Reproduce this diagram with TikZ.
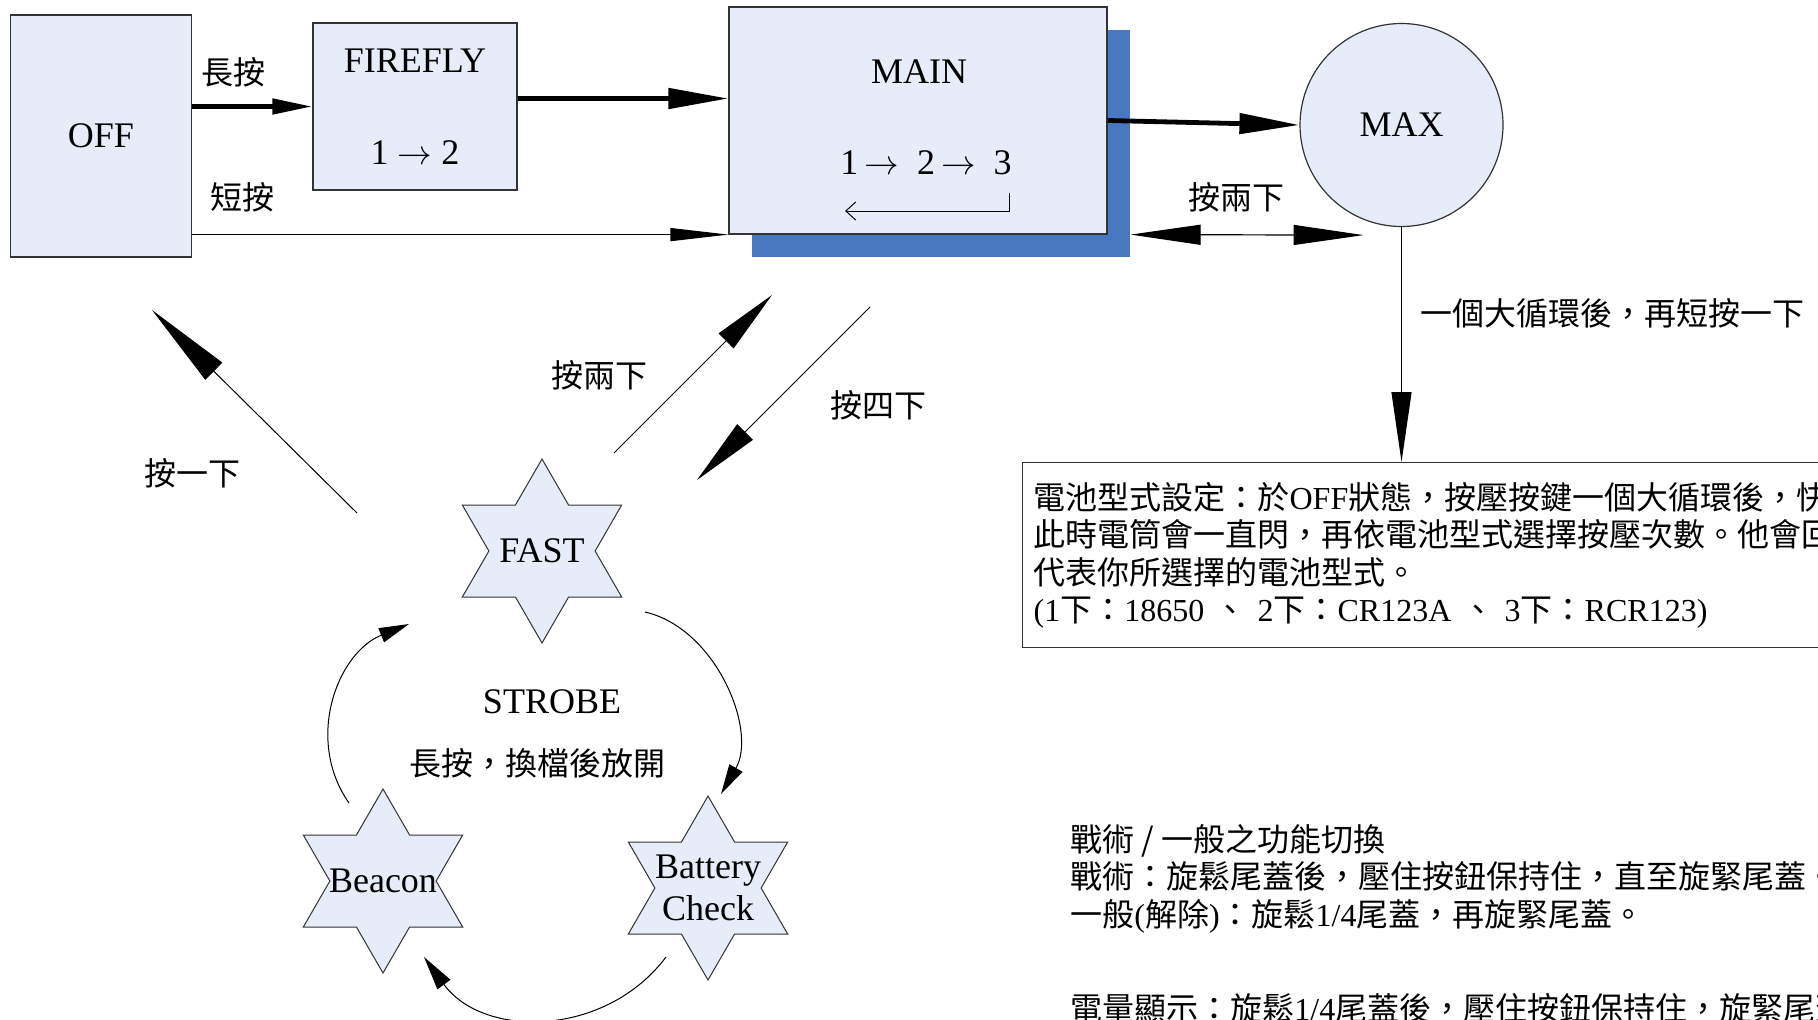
\documentclass[tikz,border=0pt]{standalone}
\usepackage{fontspec}
\setmainfont{Liberation Serif}
\newfontfamily\cjk{Noto Sans CJK TC}
\usetikzlibrary{arrows.meta,shapes.geometric,shadows}
\definecolor{boxfill}{RGB}{230,237,248}
\definecolor{shadowblue}{RGB}{72,120,192}
\newcommand{\lat}[1]{{\rmfamily #1}}

\begin{document}
\begin{tikzpicture}[x=.5pt,y=-.5pt,font=\fontsize{18}{21}\selectfont,
  zh/.style={font=\cjk\fontsize{16}{18.75}\selectfont,inner sep=0pt},
  box/.style={draw=black!80,fill=boxfill,line width=.6pt},
  flash/.style={star,star points=6,star point ratio=1.732,minimum size=92pt,
    inner sep=0pt,draw=black!80,fill=boxfill,line width=.5pt},
  fat/.style={line width=2.4pt,-{Triangle[length=30pt,width=10pt]}},
  cyc/.style={line width=.5pt,-{Triangle[length=15pt,width=7.5pt]}}]

  \useasboundingbox (0,0) rectangle (1818,1019);
  \clip (0,0) rectangle (1818,1019);

  \node[box,minimum width=90.5pt,minimum height=121pt] (off) at (101,136) {OFF};
  \node[box,minimum width=102pt,minimum height=83.5pt,align=center] (firefly)
    at (415,106.5) {FIREFLY\\[25pt]1 $\rightarrow$ 2};
  \node[box,minimum width=189pt,minimum height=113.5pt,
    general shadow={fill=shadowblue,shadow xshift=11.5pt,shadow yshift=-11.5pt}]
    (main) at (918,120.5) {};
  \node (maintitle) at (919,72) {MAIN};
  \node (mainseq) at (926,163) {1\,$\rightarrow$\enspace2\,$\rightarrow$\enspace3};
  \node[box,circle,minimum size=101.5pt,inner sep=0pt] (max) at (1401.5,125) {MAX};

  \coordinate (back0) at (1009,193);
  \coordinate (back1) at (845,211);
  \draw[line width=.5pt,-{Straight Barb[length=5pt,width=9pt]}] (back0) |- (back1);

  \draw[fat,-{Triangle[length=20pt,width=7.5pt]}] (off.east |- firefly.west) -- (firefly.west);
  \draw[fat] ([yshift=4pt]firefly.east) -- ([yshift=4pt]firefly.east -| main.west);
  \draw[fat] (main.east) -- (max.west);

  \node[zh] (longpress) at (233,72) {長按};
  \node[zh] (shortpress) at (242,197) {短按};
  \node[zh] (dblpress) at (1236,197) {按兩下};
  \node[zh] (cyclelbl) at (1612,313) {一個大循環後，再短按一下};

  \coordinate (dbl) at ([xshift=-19pt,yshift=-4pt]max.south);
  \begin{scope}[line width=.6pt]
    \draw[-{Triangle[length=29pt,width=6.5pt]}] (off.east |- main.south west) -- (main.south west);
    \draw[{Triangle[length=35pt,width=10pt]}-{Triangle[length=35pt,width=10pt]}]
      ([xshift=11.5pt]main.south east) -- (dbl);
  \end{scope}

  \node[zh,draw=black!80,line width=.6pt,anchor=north west,minimum height=92.5pt,
    text width=460pt,inner xsep=5.5pt,align=left] (note) at (1022,462)
    {電池型式設定：於\lat{OFF}狀態，按壓按鍵一個大循環後，快\\
     此時電筒會一直閃，再依電池型式選擇按壓次數。他會回\\
     代表你所選擇的電池型式。\\
     \lat{(1}下：\lat{18650} 、 \lat{2}下：\lat{CR123A} 、 \lat{3}下：\lat{RCR123)}};
  \draw[line width=.6pt,-{Triangle[length=35pt,width=10pt]}] (max.south) -- (max.south |- note.north);

  \foreach \n/\x/\y in {fast/542/551,beacon/383/881,batt/708/888}
    \node[flash] (\n) at (\x,\y) {};
  \node (fasttxt) at (fast) {FAST};
  \node (beacontxt) at (beacon) {Beacon};
  \node[align=center] (batttxt) at (batt) {Battery\\Check};
  \node (strobe) at (552,702) {STROBE};
  \node[zh] (strobehint) at (537,763) {長按，換檔後放開};

  \coordinate (ring1a) at ([shift={(103,61)}]fast);
  \coordinate (ring1b) at ([shift={(13,-94)}]batt);
  \coordinate (ring2a) at ([shift={(-42,69)}]batt);
  \coordinate (ring2b) at ([shift={(41,76)}]beacon);
  \coordinate (ring3a) at ([shift={(-34,-78)}]beacon);
  \coordinate (ring3b) at ([shift={(-133,73)}]fast);
  \draw[cyc,looseness=.95] (ring1a) to[out=-13,in=60] (ring1b);
  \draw[cyc,-{Triangle[length=17pt,width=8pt]},looseness=1.07] (ring2a) to[out=-127,in=-54] (ring2b);
  \draw[cyc,looseness=1.05] (ring3a) to[out=125,in=202] (ring3b);

  \coordinate (once0) at (357,513);
  \coordinate (once1) at (152,310);
  \coordinate (twice0) at (614,453);
  \coordinate (twice1) at (772,295);
  \coordinate (four0) at (870,307);
  \coordinate (four1) at (697,480);
  \begin{scope}[line width=.5pt]
    \draw[-{Triangle[length=43.5pt,width=12pt]}] (once0) -- (once1);
    \draw[-{Triangle[length=32.5pt,width=10.5pt]}] (twice0) -- (twice1);
    \draw[-{Triangle[length=34pt,width=11pt]}] (four0) -- (four1);
  \end{scope}
  \node[zh] (oncelbl) at (192,473) {按一下};
  \node[zh] (twicelbl) at (599,375) {按兩下};
  \node[zh] (fourlbl) at (878,405) {按四下};

  \node[zh,anchor=west,align=left] (tactic) at (1070,878.5)
    {戰術 / 一般之功能切換\\
     戰術：旋鬆尾蓋後，壓住按鈕保持住，直至旋緊尾蓋。\\
     一般\lat{(}解除\lat{)}：旋鬆\lat{1/4}尾蓋，再旋緊尾蓋。};
  \node[zh,anchor=west] (power) at (1070,1008) {電量顯示：旋鬆\lat{1/4}尾蓋後，壓住按鈕保持住，旋緊尾蓋};
\end{tikzpicture}
\end{document}
